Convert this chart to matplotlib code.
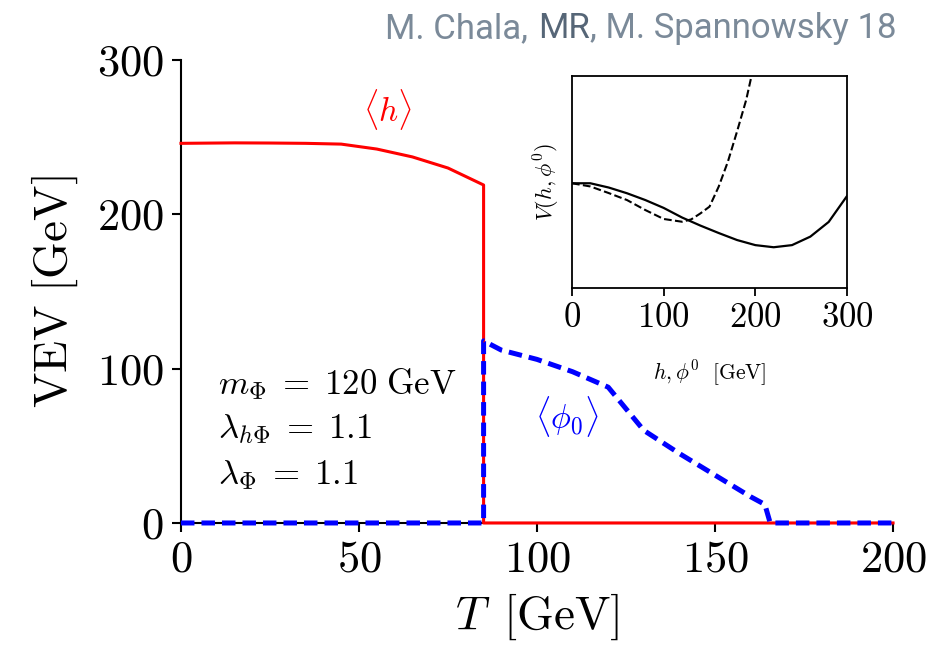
import matplotlib
matplotlib.use("Agg")
import matplotlib.pyplot as plt

plt.rcParams['font.family'] = 'serif'
plt.rcParams['font.serif'] = ['cmr10']
plt.rcParams['mathtext.fontset'] = 'cm'
plt.rcParams['axes.formatter.use_mathtext'] = True

# Main panel data
T_h = [0, 15, 25, 35, 45, 55, 65, 75, 85, 85, 200]
vev_h = [246, 246.3, 246.2, 246, 245.5, 242.3, 237.2, 230, 219, 0, 0]
T_phi = [0, 85, 85, 90, 100, 110, 120, 130, 140, 150, 160, 164, 165.5, 200]
vev_phi = [0, 0, 118, 112, 106, 98, 88, 60, 45, 31, 17, 12, 0, 0]

# Inset data (arbitrary units)
h_solid = [0, 20, 40, 60, 80, 100, 120, 140, 160, 180, 200, 220, 240, 260, 280, 300]
V_solid = [0.494, 0.494, 0.474, 0.447, 0.415, 0.378, 0.333, 0.295, 0.260, 0.227,
           0.203, 0.193, 0.203, 0.243, 0.312, 0.434]
h_dash = [0, 20, 40, 60, 80, 100, 120, 130, 140, 150, 160, 170, 180, 190, 200]
V_dash = [0.494, 0.479, 0.448, 0.415, 0.368, 0.326, 0.313, 0.324, 0.352, 0.384,
          0.478, 0.595, 0.737, 0.886, 1.08]

main_xticks = [0, 50, 100, 150, 200]
main_yticks = [0, 100, 200, 300]
inset_xticks = [0, 100, 200, 300]

fig = plt.figure(figsize=(9.45, 6.63), dpi=100)
ax = fig.add_axes([0.1915, 0.2112, 0.945 - 0.1915, 0.9095 - 0.2112])
ax.plot(T_h, vev_h, color='red', lw=2.2, clip_on=False, zorder=3)
ax.plot(T_phi, vev_phi, color='blue', lw=3.6, dashes=(2.7, 1.4), clip_on=False, zorder=4)
ax.set_xlim(0, 200)
ax.set_ylim(0, 300)
ax.set_xticks(main_xticks)
ax.set_yticks(main_yticks)
ax.spines['top'].set_visible(False)
ax.spines['right'].set_visible(False)
for s in ['left', 'bottom']:
    ax.spines[s].set_linewidth(1.5)
ax.tick_params(direction='out', length=6.5, width=1.5, labelsize=32, pad=6)
ax.set_xlabel(r'$T\ \, [\mathrm{GeV}]$', fontsize=34, labelpad=8)
ax.set_ylabel(r'$\mathrm{VEV}\ [\mathrm{GeV}]$', fontsize=34, labelpad=12)

ax.text(58, 268, r'$\langle h\rangle$', color='red', fontsize=24, ha='center', va='center')
ax.text(108.5, 69, r'$\langle \phi_0\rangle$', color='blue', fontsize=24, ha='center', va='center')
ax.text(10.5, 90, r'$m_\Phi \;=\; 120\ \mathrm{GeV}$', fontsize=25, ha='left', va='center')
ax.text(10.5, 61, r'$\lambda_{h\Phi} \;=\; 1.1$', fontsize=25, ha='left', va='center')
ax.text(10.5, 31, r'$\lambda_{\Phi} \;=\; 1.1$', fontsize=25, ha='left', va='center')

# Inset
axi = fig.add_axes([0.6053, 0.5652, 0.291, 0.3206])
axi.plot(h_solid, V_solid, color='black', lw=1.6)
axi.plot(h_dash, V_dash, color='black', lw=1.5, ls='--')
axi.set_xlim(0, 300)
axi.set_ylim(0, 1)
axi.set_xticks(inset_xticks)
axi.set_yticks([])
for s in axi.spines.values():
    s.set_linewidth(1.3)
axi.tick_params(direction='out', length=6, width=1.3, labelsize=25, pad=4)
axi.set_xlabel(r'$h, \phi^0\ \ [\mathrm{GeV}]$', fontsize=15.5, labelpad=18)
axi.set_ylabel(r'$V(h, \phi^0)$', fontsize=16, labelpad=7)

# Watermark
wm_color = '#7b8a99'
wm_size = 25
t1 = fig.text(385 / 945, 1 - 38 / 663, 'M. Chala,', family='Roboto', fontweight='normal',
              fontsize=wm_size, color=wm_color, ha='left', va='baseline')
a2 = fig.add_artist(matplotlib.text.Annotation('MR', xy=(1, 0), xycoords=t1, xytext=(7, 0),
                    textcoords='offset points', ha='left', va='bottom', family='Roboto',
                    fontweight='normal', fontsize=wm_size, color='#566677'))
a3 = fig.add_artist(matplotlib.text.Annotation(', M. Spannowsky 18', xy=(1, 0), xycoords=a2,
                    ha='left', va='bottom', family='Roboto', fontweight='normal',
                    fontsize=wm_size, color=wm_color))

fig.savefig('out.png', dpi=100)
